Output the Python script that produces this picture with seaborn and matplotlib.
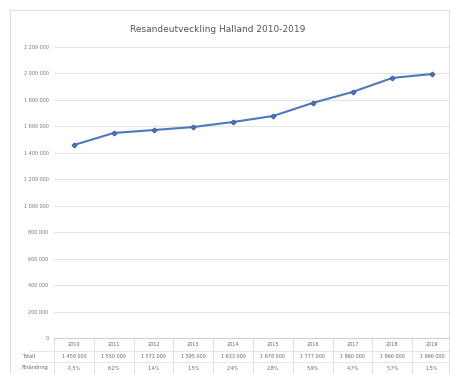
import matplotlib
matplotlib.use("Agg")
import matplotlib.pyplot as plt
import seaborn as sns
import pandas as pd
from matplotlib.patches import Rectangle

# data
years = ["2010", "2011", "2012", "2013", "2014", "2015", "2016", "2017", "2018", "2019"]
resor = [1459000, 1550000, 1572000, 1595000, 1633000, 1678000, 1777000, 1860000, 1966000, 1996000]
forandring = ["-7,5%", "6,2%", "1,4%", "1,5%", "2,4%", "2,8%", "5,9%", "4,7%", "5,7%", "1,5%"]
yticks = list(range(0, 2200001, 200000))

df = pd.DataFrame({"ar": range(len(years)), "resor": resor})

sns.set_style("white")
plt.rcParams["font.family"] = ["DejaVu Sans"]

W, H = 450, 374
fig = plt.figure(figsize=(W / 100, H / 100), dpi=100)
ax = fig.add_axes([54 / W, (H - 338) / H, (452 - 54) / W, 291 / H])

sns.lineplot(data=df, x="ar", y="resor", ax=ax, color="#4f78c0", linewidth=1.5,
             marker="D", markersize=2.5, markeredgecolor="#3a5f9f")

ax.set_xlim(-0.5, len(years) - 0.5)
ax.set_ylim(0, 2200000)
ax.set_yticks(yticks)
ax.set_yticklabels([f"{v:,}".replace(",", " ") for v in yticks], fontsize=3.5, color="#777777")
ax.set_xticks([])
ax.set_xlabel("")
ax.set_ylabel("")
ax.tick_params(axis="y", length=0, pad=4)
ax.grid(axis="y", color="#e3e3e3", linewidth=0.8)
for s in ax.spines.values():
    s.set_visible(False)

fig.text(218 / W, (H - 29) / H, "Resandeutveckling Halland 2010-2019", fontsize=6.5,
         color="#555555", ha="center", va="center")

# data table under the chart
trans = ax.get_xaxis_transform()
ph = 291
row_y = [-7 / ph, -18 / ph, -30 / ph]
for i, y in enumerate(years):
    ax.text(i, row_y[0], y, transform=trans, ha="center", va="center", fontsize=3.5, color="#666666", clip_on=False)
    ax.text(i, row_y[1], f"{resor[i]:,}".replace(",", " "), transform=trans, ha="center", va="center",
            fontsize=3.5, color="#666666", clip_on=False)
    ax.text(i, row_y[2], forandring[i], transform=trans, ha="center", va="center", fontsize=3.5,
            color="#666666", clip_on=False)
    ax.plot([i - 0.5, i - 0.5], [0, -36 / ph], transform=trans, color="#dddddd", lw=0.6, clip_on=False)
ax.plot([-0.5, len(years) - 0.5], [0, 0], transform=trans, color="#d0d0d0", lw=0.8, clip_on=False)
for y in [-12.5 / ph, -24 / ph]:
    ax.plot([-1.1, len(years) - 0.5], [y, y], transform=trans, color="#e3e3e3", lw=0.6, clip_on=False)
fig.text(22 / W, (H - 356) / H, "Totalt", fontsize=3.5, color="#666666", va="center")
fig.text(22 / W, (H - 368) / H, "Förändring", fontsize=3.5, color="#666666", va="center")

# chart area border
fig.patches.append(Rectangle((10 / W, 0), (W - 11) / W, (H - 10) / H, transform=fig.transFigure,
                             fill=False, edgecolor="#e0e0e0", linewidth=0.8))

fig.savefig("out.png", dpi=100, facecolor="white")
